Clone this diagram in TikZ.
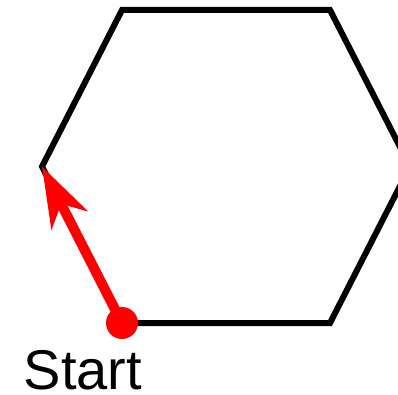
\documentclass[tikz,border=0pt]{standalone}
\usepackage{fontspec}
\setmainfont{Liberation Sans}
\usetikzlibrary{arrows.meta}
\begin{document}
\begin{tikzpicture}[x=1pt,y=-1pt,
  hexline/.style={line width=6pt,black},
  redarrow/.style={line width=10pt,red,-{Stealth[length=60pt,width=40pt,inset=18pt]}},
  startdot/.style={circle,fill=red,minimum size=32pt,inner sep=0pt}]
\useasboundingbox (0,0) rectangle (398,395);
\clip (0,0) rectangle (398,395);
\coordinate (v1) at (122,10);
\coordinate (v2) at (330,10);
\coordinate (v3) at (410,166.5);
\coordinate (v4) at (330,323);
\coordinate (v5) at (122,323);
\coordinate (v6) at (42,166.5);
\draw[hexline] (v1) -- (v2) -- (v3) -- (v4) -- (v5) -- (v6) -- cycle;
\node[startdot] (s) at (v5) {};
\draw[redarrow] (s.center) -- (v6);
\node[anchor=base,font=\fontsize{56}{60}\selectfont,inner sep=0pt,text depth=0pt] (lbl) at (83,389) {Start};
\end{tikzpicture}
\end{document}
